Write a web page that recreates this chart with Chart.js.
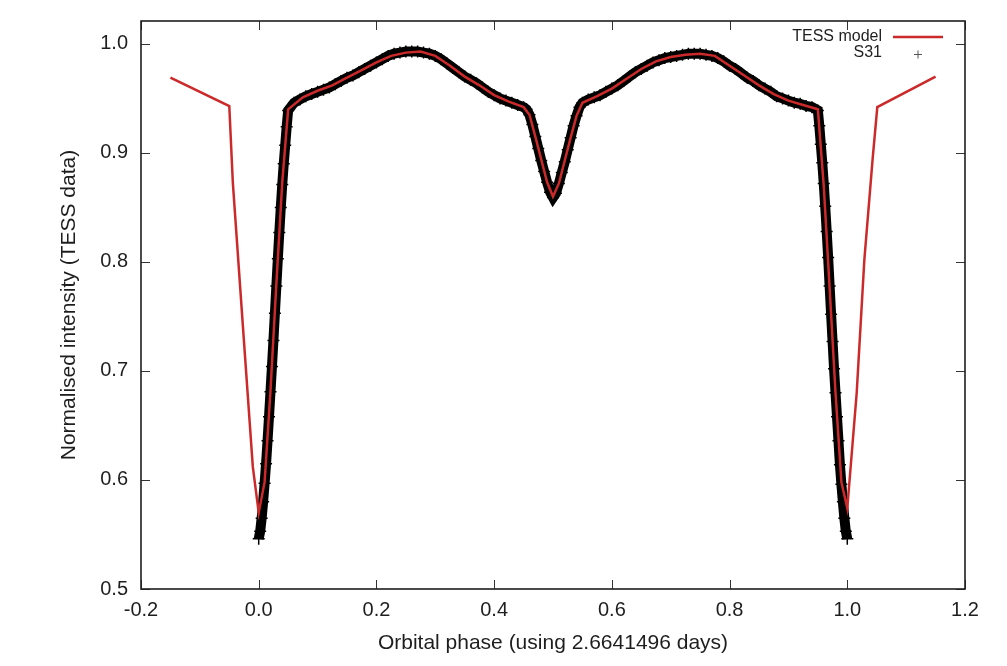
<!DOCTYPE html>
<html lang="en">
<head>
    <meta charset="UTF-8">
    <title>TESS light curve</title>
    <script src="https://cdn.jsdelivr.net/npm/chart.js@4.4.0/dist/chart.umd.min.js"></script>
    <style>
        body { margin: 0; background: #fff; }
    </style>
</head>
<body>
    <canvas id="lc" width="1007" height="666"></canvas>
    <script>
        // axis ticks
        const xTicks = [-0.2, 0.0, 0.2, 0.4, 0.6, 0.8, 1.0, 1.2];
        const yTicks = [0.5, 0.6, 0.7, 0.8, 0.9, 1.0];

        // TESS model (red line)
        const modelPhase = [-0.15, -0.05, -0.044, -0.027, -0.01, 0.0, 0.01, 0.02, 0.03, 0.04, 0.05,
            0.075, 0.1, 0.125, 0.15, 0.175, 0.2, 0.225, 0.25, 0.275, 0.3, 0.325, 0.35, 0.375, 0.4, 0.425,
            0.45, 0.46, 0.47, 0.48, 0.49, 0.5, 0.51, 0.52, 0.53, 0.54, 0.55,
            0.575, 0.6, 0.625, 0.65, 0.675, 0.7, 0.725, 0.75, 0.775, 0.8, 0.825, 0.85, 0.875, 0.9, 0.925,
            0.95, 0.96, 0.97, 0.98, 0.99, 1.0, 1.016, 1.029, 1.043, 1.051, 1.15];
        const modelFlux = [0.969, 0.943, 0.873, 0.742, 0.612, 0.570, 0.598, 0.682, 0.780, 0.873, 0.940,
            0.951, 0.957, 0.962, 0.969, 0.976, 0.983, 0.989, 0.992, 0.993, 0.989, 0.980, 0.970, 0.962, 0.953, 0.947,
            0.942, 0.935, 0.915, 0.894, 0.873, 0.860, 0.872, 0.893, 0.914, 0.934, 0.946,
            0.952, 0.959, 0.968, 0.977, 0.984, 0.988, 0.990, 0.991, 0.989, 0.980, 0.971, 0.962, 0.954, 0.948, 0.944,
            0.940, 0.870, 0.776, 0.680, 0.598, 0.574, 0.680, 0.802, 0.894, 0.942, 0.970];

        // S31 observations (black crosses)
        const obsPhase = [
            0.0, 0.0025, 0.005, 0.0075, 0.01, 0.0125, 0.015, 0.0175, 0.02, 0.0225, 0.025,
            0.0275, 0.03, 0.0325, 0.035, 0.0375, 0.04, 0.0425, 0.045, 0.0475, 0.05,
            0.06, 0.07, 0.08, 0.09, 0.10, 0.11, 0.12, 0.13, 0.14, 0.15, 0.16, 0.17, 0.18, 0.19, 0.20,
            0.21, 0.22, 0.23, 0.24, 0.25, 0.26, 0.27, 0.28, 0.29, 0.30, 0.31, 0.32, 0.33, 0.34, 0.35,
            0.36, 0.37, 0.38, 0.39, 0.40, 0.41, 0.42, 0.43, 0.44, 0.45,
            0.455, 0.46, 0.465, 0.47, 0.475, 0.48, 0.485, 0.49, 0.495, 0.50,
            0.505, 0.51, 0.515, 0.52, 0.525, 0.53, 0.535, 0.54, 0.545, 0.55,
            0.56, 0.57, 0.58, 0.59, 0.60, 0.61, 0.62, 0.63, 0.64, 0.65, 0.66, 0.67, 0.68, 0.69, 0.70,
            0.71, 0.72, 0.73, 0.74, 0.75, 0.76, 0.77, 0.78, 0.79, 0.80, 0.81, 0.82, 0.83, 0.84, 0.85,
            0.86, 0.87, 0.88, 0.89, 0.90, 0.91, 0.92, 0.93, 0.94, 0.95,
            0.9525, 0.955, 0.9575, 0.96, 0.9625, 0.965, 0.9675, 0.97, 0.9725, 0.975,
            0.9775, 0.98, 0.9825, 0.985, 0.9875, 0.99, 0.9925, 0.995, 0.9975, 1.0];
        const obsFlux = [
            0.546, 0.553, 0.565, 0.580, 0.597, 0.615, 0.636, 0.658, 0.681, 0.704, 0.728,
            0.753, 0.778, 0.803, 0.827, 0.850, 0.871, 0.890, 0.907, 0.924, 0.939,
            0.946, 0.949, 0.952, 0.954, 0.956, 0.958, 0.960, 0.963, 0.966, 0.969, 0.971, 0.974, 0.977, 0.980, 0.983,
            0.986, 0.989, 0.991, 0.992, 0.993, 0.993, 0.993, 0.992, 0.991, 0.989, 0.986, 0.982, 0.978, 0.974, 0.970,
            0.967, 0.964, 0.960, 0.956, 0.953, 0.950, 0.948, 0.946, 0.944, 0.942,
            0.940, 0.935, 0.926, 0.915, 0.904, 0.893, 0.883, 0.873, 0.864, 0.859,
            0.863, 0.872, 0.882, 0.892, 0.903, 0.914, 0.925, 0.934, 0.942, 0.946,
            0.949, 0.951, 0.953, 0.956, 0.959, 0.962, 0.966, 0.970, 0.974, 0.977, 0.980, 0.983, 0.985, 0.987, 0.988,
            0.989, 0.990, 0.991, 0.991, 0.991, 0.990, 0.989, 0.987, 0.984, 0.980, 0.977, 0.973, 0.969, 0.966, 0.962,
            0.959, 0.956, 0.952, 0.950, 0.948, 0.946, 0.945, 0.943, 0.942, 0.939,
            0.925, 0.908, 0.891, 0.872, 0.851, 0.828, 0.804, 0.778, 0.752, 0.727,
            0.702, 0.680, 0.658, 0.636, 0.614, 0.596, 0.580, 0.565, 0.553, 0.546];

        const FONT = '"Liberation Sans", Arial, Helvetica, sans-serif';
        const INK = '#1e1e1e';
        const MODEL_RED = '#cc2a2a';

        const toXY = (xs, ys) => xs.map((v, i) => ({ x: v, y: ys[i] }));

        // gnuplot style frame with inward ticks on all four sides
        const framePlugin = {
            id: 'framePlugin',
            afterDraw(chart) {
                const { ctx, chartArea: a, scales } = chart;
                const len = 9;
                ctx.save();
                ctx.strokeStyle = '#333';
                ctx.lineWidth = 1;
                ctx.beginPath();
                xTicks.forEach(v => {
                    const px = Math.round(scales.x.getPixelForValue(v)) + 0.5;
                    ctx.moveTo(px, a.bottom); ctx.lineTo(px, a.bottom - len);
                    ctx.moveTo(px, a.top); ctx.lineTo(px, a.top + len);
                });
                yTicks.forEach(v => {
                    const py = Math.round(scales.y.getPixelForValue(v)) + 0.5;
                    ctx.moveTo(a.left, py); ctx.lineTo(a.left + len, py);
                    ctx.moveTo(a.right, py); ctx.lineTo(a.right - len, py);
                });
                ctx.stroke();
                ctx.strokeStyle = INK;
                ctx.lineWidth = 1.6;
                ctx.strokeRect(a.left, a.top, a.right - a.left, a.bottom - a.top);
                ctx.restore();
            }
        };

        // key in the top right corner: text on the left, sample on the right
        const keyPlugin = {
            id: 'keyPlugin',
            afterDraw(chart) {
                const { ctx, chartArea: a } = chart;
                const ds = chart.data.datasets;
                const tx = a.right - 83;
                const rows = [a.top + 16, a.top + 32];
                ctx.save();
                ctx.font = '16px ' + FONT;
                ctx.fillStyle = INK;
                ctx.textAlign = 'right';
                ctx.textBaseline = 'middle';
                ds.forEach((d, i) => ctx.fillText(d.label, tx, rows[i]));
                // model sample
                ctx.strokeStyle = ds[0].borderColor;
                ctx.lineWidth = 2.5;
                ctx.beginPath();
                ctx.moveTo(tx + 11, rows[0]);
                ctx.lineTo(tx + 61, rows[0]);
                ctx.stroke();
                // observation sample
                ctx.strokeStyle = '#555';
                ctx.lineWidth = 1;
                ctx.beginPath();
                ctx.moveTo(tx + 32, rows[1] + 1.5); ctx.lineTo(tx + 40, rows[1] + 1.5);
                ctx.moveTo(tx + 36, rows[1] - 2.5); ctx.lineTo(tx + 36, rows[1] + 5.5);
                ctx.stroke();
                ctx.restore();
            }
        };

        const ctx = document.getElementById('lc').getContext('2d');
        const lcChart = new Chart(ctx, {
            type: 'scatter',
            data: {
                datasets: [{
                    label: 'TESS model',
                    data: toXY(modelPhase, modelFlux),
                    showLine: true,
                    borderColor: MODEL_RED,
                    borderWidth: 2.5,
                    pointRadius: 0,
                    tension: 0,
                    order: 0
                }, {
                    label: 'S31',
                    data: toXY(obsPhase, obsFlux),
                    showLine: true,
                    borderColor: '#000',
                    borderWidth: 10,
                    pointStyle: 'cross',
                    pointRadius: 6,
                    pointBorderWidth: 1.5,
                    pointBorderColor: '#000',
                    order: 1
                }]
            },
            options: {
                responsive: false,
                animation: false,
                layout: { padding: { left: 57, right: 42, top: 21, bottom: 10 } },
                plugins: {
                    legend: { display: false },
                    tooltip: { enabled: false }
                },
                scales: {
                    x: {
                        type: 'linear',
                        min: -0.2,
                        max: 1.2,
                        afterBuildTicks: s => { s.ticks = xTicks.map(v => ({ value: v })); },
                        afterFit: s => { s.height = 67; s.paddingLeft = 0; s.paddingRight = 0; },
                        grid: { display: false },
                        border: { display: false },
                        ticks: {
                            padding: 1,
                            color: INK,
                            font: { family: FONT, size: 20 },
                            callback: v => v.toFixed(1)
                        },
                        title: {
                            display: true,
                            text: 'Orbital phase (using 2.6641496 days)',
                            color: INK,
                            padding: 0,
                            font: { family: FONT, size: 21 }
                        }
                    },
                    y: {
                        type: 'linear',
                        min: 0.5,
                        max: 1.021,
                        afterBuildTicks: s => { s.ticks = yTicks.map(v => ({ value: v })); },
                        afterFit: s => { s.width = 84; s.paddingTop = 0; s.paddingBottom = 0; },
                        grid: { display: false },
                        border: { display: false },
                        ticks: {
                            padding: 5,
                            color: INK,
                            font: { family: FONT, size: 20 },
                            callback: v => v.toFixed(1)
                        },
                        title: {
                            display: true,
                            text: 'Normalised intensity (TESS data)',
                            color: INK,
                            padding: 0,
                            font: { family: FONT, size: 21 }
                        }
                    }
                }
            },
            plugins: [framePlugin, keyPlugin]
        });
    </script>
</body>
</html>
